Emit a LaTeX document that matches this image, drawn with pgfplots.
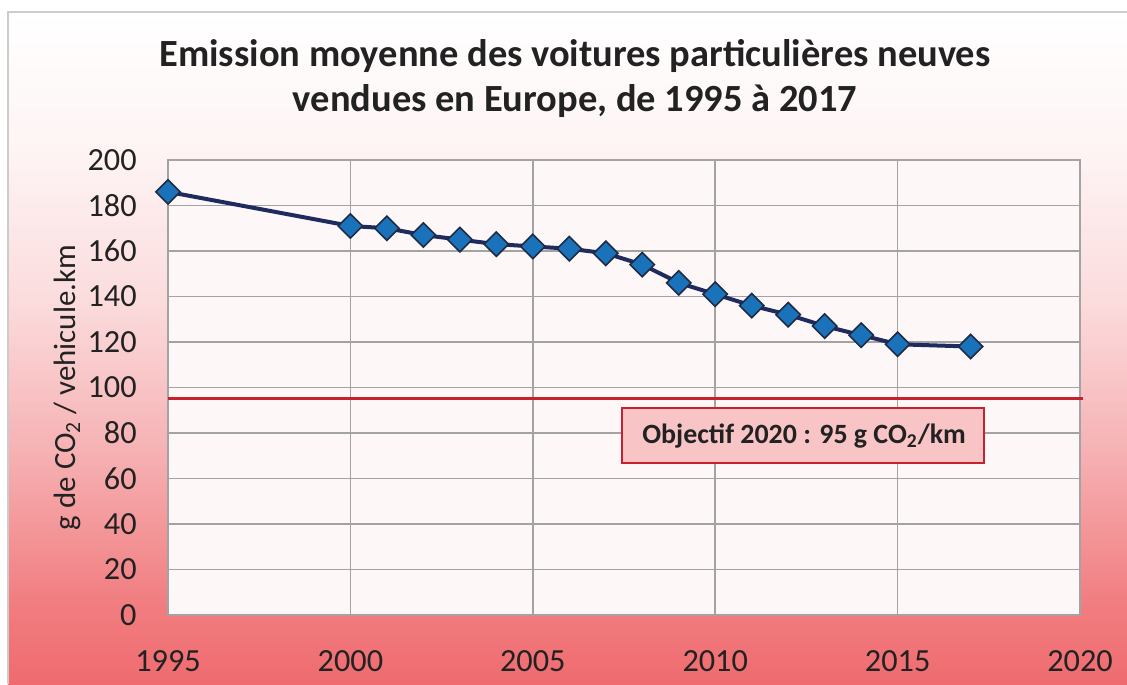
\documentclass[border=0pt]{standalone}
\usepackage{pgfplots}
\pgfplotsset{compat=1.18}
\usepackage{fontspec}
\setmainfont{Carlito}
\definecolor{bg1}{HTML}{FFFFFF}
\definecolor{bg2}{HTML}{FEF4F4}
\definecolor{bg3}{HTML}{FBDCDD}
\definecolor{bg4}{HTML}{F6B2B4}
\definecolor{bg5}{HTML}{F17E81}
\definecolor{bg6}{HTML}{EF6B6F}
\definecolor{plotbg}{HTML}{FDF7F7}
\definecolor{gridc}{HTML}{A3A3A3}
\definecolor{linec}{HTML}{1F2A5E}
\definecolor{markc}{HTML}{1A72BB}
\definecolor{markb}{HTML}{1F2A44}
\definecolor{redl}{HTML}{C8202E}
\definecolor{boxf}{HTML}{F9C4C6}
\definecolor{txt}{HTML}{222222}
\begin{document}
\begin{tikzpicture}[x=0.5bp,y=0.5bp]
\useasboundingbox (0,0) rectangle (1127,684);
% background gradient (y measured from bottom: Y = 684 - ypx)
\shade[top color=bg1,bottom color=bg2] (8,534) rectangle (1127,672);
\shade[top color=bg2,bottom color=bg3] (8,384) rectangle (1127,534.5);
\shade[top color=bg3,bottom color=bg4] (8,234) rectangle (1127,384.5);
\shade[top color=bg4,bottom color=bg5] (8,84) rectangle (1127,234.5);
\shade[top color=bg5,bottom color=bg6] (8,0) rectangle (1127,84.5);
\draw[gray!40,line width=0.8bp] (8,0) -- (8,672) -- (1127,672);
\node[font=\bfseries\fontsize{19.3}{22.3}\selectfont,text=txt,align=center] at (575,605.5)
  {Emission moyenne des voitures particulières neuves\\vendues en Europe, de 1995 à 2017};
\begin{axis}[
  at={(84bp,34.5bp)}, anchor=south west,
  scale only axis, width=456bp, height=227.5bp,
  xmin=1995, xmax=2020, ymin=0, ymax=200,
  xtick={1995,2000,2005,2010,2015,2020},
  ytick={0,20,...,200},
  grid=major,
  major grid style={gridc,line width=0.75bp},
  axis line style={gridc,line width=0.75bp},
  major tick length=0pt,
  axis background/.style={fill=plotbg},
  tick label style={font=\fontsize{16.2}{18}\selectfont,text=txt},
  /pgf/number format/assume math mode=true,
  /pgf/number format/1000 sep={},
  xticklabel style={anchor=north,inner sep=0pt,yshift=-17.5bp},
  yticklabel style={anchor=east,inner sep=0pt,xshift=-15.5bp},
  ylabel={g de CO\textsubscript{2} / vehicule.km},
  ylabel style={at={(axis description cs:-0.11,0.5)},anchor=center,font=\fontsize{15.5}{18}\selectfont,text=txt},
  clip=false,
]
\addplot[redl,line width=1.5bp] coordinates {(1995,95) (2020.08,95)};
\addplot[linec,line width=2bp,mark=square*,mark size=4.3bp,
  mark options={rotate=45,fill=markc,draw=markb,line width=0.8bp}] coordinates {
(1995,186) (2000,171) (2001,170) (2002,167) (2003,165) (2004,163) (2005,162)
(2006,161) (2007,159) (2008,154) (2009,146) (2010,141) (2011,136) (2012,132)
(2013,127) (2014,123) (2015,119) (2017,118)};
\draw[redl,fill=boxf,line width=1bp] (axis cs:2007.45,91.0) rectangle (axis cs:2017.37,66.8);
\node[anchor=west,inner sep=0pt,text=txt,font=\bfseries\fontsize{14}{16}\selectfont] at (axis cs:2007.99,78.6) {Objectif 2020 : 95 g CO\textsubscript{2}/km};
\end{axis}
\end{tikzpicture}
\end{document}
